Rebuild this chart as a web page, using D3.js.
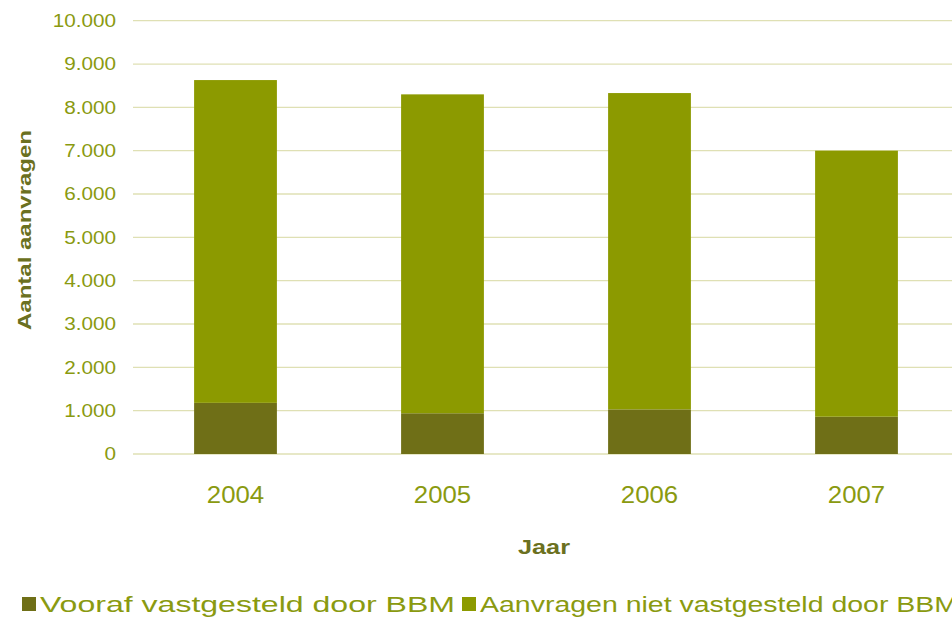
<!DOCTYPE html>
<html><head><meta charset="utf-8">
<script src="https://cdn.jsdelivr.net/npm/d3@7"></script>
<style>body{margin:0;background:#fff;}svg{display:block;font-family:"Liberation Sans",Arial,sans-serif;}</style>
</head><body><svg id="c" width="952" height="622"></svg>
<script>
const years = ["2004","2005","2006","2007"];
const vooraf = [1180, 940, 1030, 860];
const totals = [8630, 8300, 8330, 7000];
const nietVastgesteld = totals.map((t,i)=>t - vooraf[i]);
const seriesNames = ["Vooraf vastgesteld door BBM","Aanvragen niet vastgesteld door BBM"];
const seriesColors = ["#6f6f17","#8c9a00"];
const yTicks = [0,1000,2000,3000,4000,5000,6000,7000,8000,9000,10000];

const svg = d3.select("#c");
const x = d3.scaleBand().domain(years).range([132, 960]).paddingInner(0.6).paddingOuter(0.3);
const y = d3.scaleLinear().domain([0,10000]).range([454, 20.7]);
const fmt = v => d3.format(",")(v).replace(/,/g,".");
const stretch = (sel, k) => sel.each(function(){
  const L = this.getComputedTextLength();
  d3.select(this).attr("textLength", L*k).attr("lengthAdjust","spacingAndGlyphs");
});

// gridlines
svg.append("g").selectAll("line").data(yTicks).join("line")
  .attr("x1",133).attr("x2",952).attr("y1",d=>y(d)).attr("y2",d=>y(d))
  .attr("stroke","#dfe0b4").attr("stroke-width",1.3);

// y axis labels
const yAxis = d3.axisLeft(y).tickValues(yTicks).tickFormat(fmt).tickSize(0).tickPadding(0);
const gy = svg.append("g").attr("transform","translate(116,0)").call(yAxis);
gy.select(".domain").remove();
gy.selectAll("text").attr("fill","#8a9a10").attr("font-size",18).attr("font-family","Liberation Sans, Arial, sans-serif").call(stretch,1.15);

// stacked bars
const rows = years.map((yr,i)=>({year:yr, a:vooraf[i], b:nietVastgesteld[i]}));
const stack = d3.stack().keys(["a","b"])(rows);
svg.append("g").selectAll("g").data(stack).join("g")
  .attr("fill",(d,i)=>seriesColors[i])
  .selectAll("rect").data(d=>d).join("rect")
  .attr("x",d=>x(d.data.year)).attr("width",x.bandwidth())
  .attr("y",d=>y(d[1])).attr("height",d=>y(d[0])-y(d[1]));

// x axis labels
const xAxis = d3.axisBottom(x).tickSize(0).tickPadding(0);
const gx = svg.append("g").attr("transform","translate(0,487)").call(xAxis);
gx.select(".domain").remove();
gx.selectAll("text").attr("fill","#8a9a10").attr("font-size",23).attr("font-family","Liberation Sans, Arial, sans-serif").call(stretch,1.12);

// axis titles
svg.append("text").attr("x",544).attr("y",554).attr("text-anchor","middle")
  .attr("font-weight","bold").attr("font-size",21).attr("fill","#6b7020")
  .attr("textLength",52).attr("lengthAdjust","spacingAndGlyphs").text("Jaar");
svg.append("text").attr("transform","translate(31,230) rotate(-90)").attr("text-anchor","middle")
  .attr("font-weight","bold").attr("font-size",19).attr("fill","#6b7020")
  .attr("textLength",200).attr("lengthAdjust","spacingAndGlyphs").text("Aantal aanvragen");

// legend
const legX = [22, 462];
const legLen = [415, 478];
const leg = svg.append("g");
seriesNames.forEach((name,i)=>{
  leg.append("rect").attr("x",legX[i]).attr("y",597).attr("width",14).attr("height",14).attr("fill",seriesColors[i]);
  leg.append("text").attr("x",legX[i]+18).attr("y",612).attr("font-size",22).attr("fill","#8a9a10")
    .attr("textLength",legLen[i]).attr("lengthAdjust","spacingAndGlyphs").text(name);
});
</script></body></html>
